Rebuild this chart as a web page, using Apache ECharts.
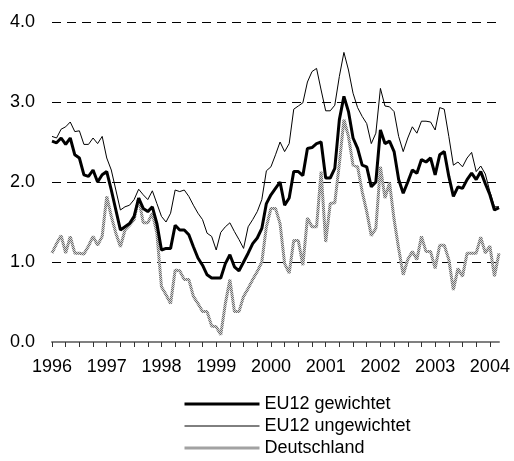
<!DOCTYPE html>
<html>
<head>
<meta charset="utf-8">
<script src="https://cdn.jsdelivr.net/npm/echarts@6/dist/echarts.min.js"></script>
<style>
  html, body { margin: 0; padding: 0; background: #fff; }
  #chart { width: 514px; height: 461px; }
</style>
</head>
<body>
<div id="chart"></div>
<script>
// Monatswerte Jan 1996 - Mär 2004
var startYear = 1996;
var monthCount = 99;

var euGewichtet = [
    2.51, 2.49, 2.55, 2.47, 2.55, 2.34, 2.30, 2.09, 2.07, 2.15, 2.00, 2.09,
    2.13, 1.90, 1.65, 1.40, 1.44, 1.48, 1.57, 1.80, 1.67, 1.63, 1.69, 1.48,
    1.15, 1.17, 1.17, 1.46, 1.40, 1.40, 1.34, 1.19, 1.05, 0.96, 0.84, 0.80,
    0.80, 0.80, 0.98, 1.09, 0.94, 0.89, 1.00, 1.11, 1.23, 1.30, 1.42, 1.73,
    1.84, 1.92, 2.00, 1.71, 1.80, 2.13, 2.13, 2.08, 2.42, 2.43, 2.48, 2.50,
    2.05, 2.05, 2.17, 2.78, 3.07, 2.88, 2.55, 2.42, 2.21, 2.19, 1.94, 2.00,
    2.65, 2.48, 2.51, 2.38, 2.03, 1.86, 2.00, 2.15, 2.11, 2.28, 2.25, 2.30,
    2.09, 2.34, 2.38, 2.07, 1.82, 1.94, 1.92, 2.03, 2.11, 2.03, 2.13, 1.98,
    1.84, 1.65, 1.68
];

var euUngewichtet = [
    2.57, 2.55, 2.66, 2.69, 2.75, 2.63, 2.64, 2.47, 2.47, 2.55, 2.48, 2.57,
    2.30, 2.15, 1.90, 1.65, 1.69, 1.71, 1.78, 1.91, 1.84, 1.78, 1.89, 1.73,
    1.57, 1.50, 1.61, 1.90, 1.88, 1.90, 1.82, 1.71, 1.61, 1.53, 1.36, 1.32,
    1.15, 1.37, 1.44, 1.49, 1.38, 1.28, 1.17, 1.44, 1.53, 1.63, 1.78, 2.14,
    2.19, 2.34, 2.50, 2.38, 2.48, 2.91, 2.95, 2.99, 3.25, 3.38, 3.42, 3.15,
    2.89, 2.89, 2.96, 3.32, 3.62, 3.40, 3.11, 2.93, 2.82, 2.73, 2.48, 2.61,
    3.17, 2.95, 2.94, 2.88, 2.57, 2.38, 2.55, 2.69, 2.61, 2.76, 2.76, 2.75,
    2.65, 2.93, 2.91, 2.57, 2.21, 2.25, 2.19, 2.30, 2.37, 2.13, 2.20, 2.10,
    1.88, 1.69, 1.69
];

var deutschland = [
    1.11, 1.23, 1.33, 1.11, 1.32, 1.11, 1.11, 1.10, 1.20, 1.32, 1.21, 1.32,
    1.82, 1.57, 1.36, 1.19, 1.40, 1.46, 1.53, 1.80, 1.49, 1.49, 1.61, 1.36,
    0.69, 0.59, 0.48, 0.90, 0.89, 0.78, 0.78, 0.57, 0.48, 0.38, 0.38, 0.20,
    0.19, 0.09, 0.48, 0.78, 0.38, 0.38, 0.57, 0.67, 0.78, 0.88, 1.00, 1.44,
    1.67, 1.67, 1.48, 0.98, 0.86, 1.27, 1.27, 0.96, 1.55, 1.44, 1.44, 2.13,
    1.25, 1.73, 1.74, 2.23, 2.78, 2.57, 2.21, 2.19, 1.88, 1.63, 1.33, 1.42,
    2.19, 1.80, 1.99, 1.53, 1.17, 0.84, 1.03, 1.13, 1.03, 1.32, 1.13, 1.13,
    0.92, 1.21, 1.21, 1.03, 0.65, 0.92, 0.82, 1.11, 1.11, 1.11, 1.31, 1.11,
    1.20, 0.82, 1.11
];

var seriesNames = ['EU12 gewichtet', 'EU12 ungewichtet', 'Deutschland'];

// Kategorien "1996-01" ... "2004-03"
var months = [];
for (var i = 0; i < monthCount; i++) {
    var y = startYear + Math.floor(i / 12);
    var m = (i % 12) + 1;
    months.push(y + '-' + (m < 10 ? '0' + m : m));
}

// graues Muster fuer die Deutschland-Linie
var pat = document.createElement('canvas');
pat.width = 2;
pat.height = 2;
var pctx = pat.getContext('2d');
pctx.fillStyle = '#d6d6d6';
pctx.fillRect(0, 0, 2, 2);
pctx.fillStyle = '#6e6e6e';
pctx.fillRect(0, 0, 1, 1);
pctx.fillRect(1, 1, 1, 1);
var grauMuster = { image: pat, repeat: 'repeat' };

var myChart = echarts.init(document.getElementById('chart'));
var options = {
    animation: false,
    textStyle: { fontFamily: 'Liberation Sans, Arial, sans-serif' },
    grid: { left: 52, right: 15, top: 22, bottom: 119 },
    legend: {
        orient: 'vertical',
        left: 183,
        top: 393,
        padding: 0,
        itemWidth: 75,
        itemHeight: 14,
        itemGap: 0,
        itemStyle: { opacity: 0 },
        data: [
            { name: seriesNames[0], lineStyle: { width: 3, color: '#000' } },
            { name: seriesNames[1], lineStyle: { width: 1, color: '#000' } },
            { name: seriesNames[2], lineStyle: { width: 3, color: grauMuster } }
        ],
        textStyle: { fontSize: 18, lineHeight: 22, color: '#000', padding: [0, 0, 0, 0] }
    },
    xAxis: {
        type: 'category',
        boundaryGap: false,
        data: months,
        axisLine: { lineStyle: { color: '#808080', width: 2 } },
        axisTick: {
            length: 5,
            lineStyle: { color: '#333', width: 1 },
            interval: function (index) { return index % 3 === 0; }
        },
        axisLabel: {
            color: '#000',
            fontSize: 18,
            margin: 16,
            interval: function (index) { return index % 12 === 0; },
            formatter: function (value) { return value.substring(0, 4); }
        },
        splitLine: { show: false }
    },
    yAxis: {
        type: 'value',
        min: 0,
        max: 4,
        interval: 1,
        axisLine: { show: false },
        axisTick: { show: false },
        axisLabel: {
            color: '#000',
            fontSize: 18,
            margin: 17,
            formatter: function (v) { return v.toFixed(1); }
        },
        splitLine: { lineStyle: { color: '#000', width: 1, type: [9, 6] } }
    },
    series: [{
        name: seriesNames[0],
        type: 'line',
        data: euGewichtet,
        symbol: 'none',
        z: 4,
        lineStyle: { color: '#000', width: 3 },
        itemStyle: { color: '#000' }
    }, {
        name: seriesNames[1],
        type: 'line',
        data: euUngewichtet,
        symbol: 'none',
        z: 3,
        lineStyle: { color: '#000', width: 1 },
        itemStyle: { color: '#000' }
    }, {
        name: seriesNames[2],
        type: 'line',
        data: deutschland,
        symbol: 'none',
        z: 2,
        lineStyle: { color: grauMuster, width: 3 },
        itemStyle: { color: '#999' }
    }]
};
myChart.setOption(options, true);
</script>
</body>
</html>
